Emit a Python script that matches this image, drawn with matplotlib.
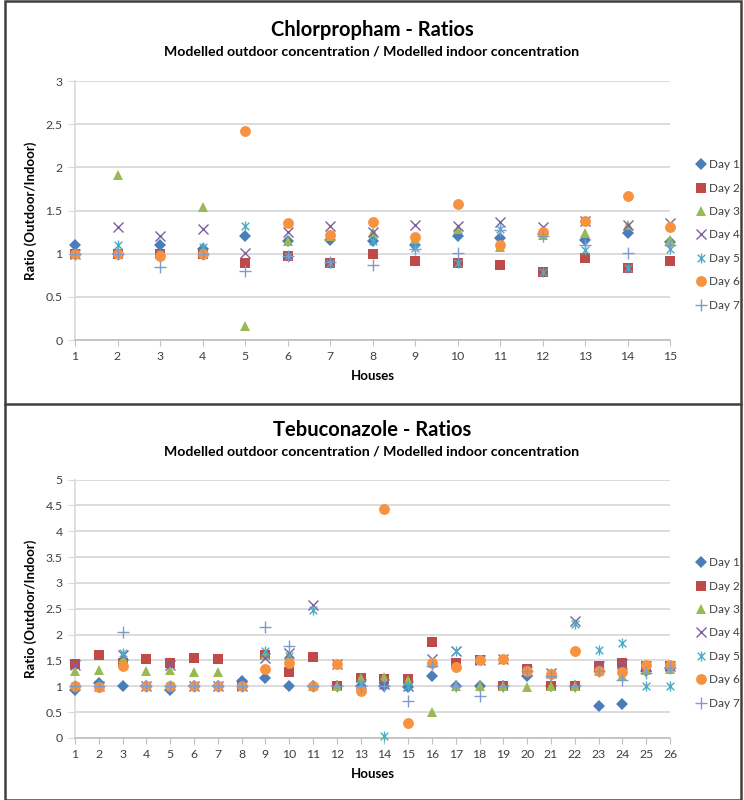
import matplotlib.pyplot as plt
from matplotlib.path import Path
from matplotlib.patches import Rectangle
from matplotlib.lines import Line2D

plt.rcParams['font.family'] = ['Lato', 'DejaVu Sans']

# Chlorpropham ratios, houses 1-15
chl_houses = list(range(1, 16))
chl_day1 = [1.1, 1.0, 1.1, 1.05, 1.2, 1.15, 1.16, 1.15, 1.1, 1.2, 1.18, 1.23, 1.16, 1.24, 1.14]
chl_day2 = [1.0, 1.0, 1.0, 1.0, 0.89, 0.97, 0.89, 1.0, 0.92, 0.89, 0.87, 0.79, 0.95, 0.83, 0.91]
chl_day3 = [1.0, 1.91, 1.0, 1.54, 0.16, 1.15, 1.2, 1.25, 1.17, 1.28, 1.08, 1.22, 1.24, 1.33, 1.16]
chl_day4 = [1.0, 1.31, 1.21, 1.28, 1.01, 1.25, 1.32, 1.25, 1.33, 1.32, 1.37, 1.31, 1.38, 1.33, 1.36]
chl_day5 = [1.0, 1.1, 1.0, 1.08, 1.32, 0.97, 0.89, 1.15, 1.07, 0.89, 1.28, 0.79, 1.04, 0.83, 1.05]
chl_day6 = [1.0, 1.0, 0.97, 1.0, 2.42, 1.36, 1.22, 1.37, 1.19, 1.58, 1.1, 1.25, 1.38, 1.67, 1.31]
chl_day7 = [1.0, 1.0, 0.85, 1.0, 0.8, 0.97, 0.9, 0.87, 1.05, 1.01, 1.27, 1.2, 1.1, 1.01, 1.1]

# Tebuconazole ratios, houses 1-26
teb_houses = list(range(1, 27))
teb_day1 = [0.92, 1.06, 1.0, 1.0, 0.92, 1.0, 1.0, 1.1, 1.16, 1.0, 1.0, 1.0, 1.0,
            1.0, 0.99, 1.19, 1.0, 1.0, 1.0, 1.19, 1.0, 1.0, 0.61, 0.66, 1.3, 1.35]
teb_day2 = [1.44, 1.61, 1.45, 1.53, 1.45, 1.55, 1.52, 1.0, 1.61, 1.27, 1.56, 1.0, 1.16,
            1.14, 1.14, 1.85, 1.46, 1.5, 1.0, 1.34, 1.0, 1.0, 1.39, 1.46, 1.39, 1.39]
teb_day3 = [1.29, 1.32, 1.55, 1.29, 1.32, 1.27, 1.28, 1.0, 1.6, 1.6, 1.0, 1.0, 1.16,
            1.18, 1.12, 0.5, 1.0, 1.01, 1.0, 0.99, 1.0, 1.0, 1.3, 1.19, 1.31, 1.34]
teb_day4 = [1.42, 1.0, 1.61, 1.0, 1.42, 1.0, 1.0, 1.0, 1.55, 1.65, 2.58, 1.44, 1.05,
            1.05, 1.0, 1.52, 1.68, 1.5, 1.53, 1.3, 1.25, 2.26, 1.4, 1.44, 1.4, 1.4]
teb_day5 = [1.0, 1.0, 1.65, 1.0, 1.0, 1.0, 1.0, 1.0, 1.68, 1.58, 2.48, 1.44, 1.05,
            0.03, 1.0, 1.45, 1.68, 1.5, 1.53, 1.3, 1.26, 2.21, 1.71, 1.83, 1.0, 1.0]
teb_day6 = [1.0, 0.99, 1.4, 1.0, 1.0, 1.0, 1.0, 1.0, 1.34, 1.45, 1.0, 1.44, 0.9,
            4.43, 0.29, 1.46, 1.37, 1.5, 1.53, 1.29, 1.23, 1.68, 1.29, 1.27, 1.42, 1.42]
teb_day7 = [1.0, 1.0, 2.05, 1.0, 1.0, 1.0, 1.0, 1.0, 2.15, 1.77, 1.0, 1.0, 1.0,
            1.0, 0.71, 1.39, 1.0, 0.82, 1.0, 1.29, 1.2, 1.0, 1.3, 1.13, 1.26, 1.35]

day_labels = ['Day 1', 'Day 2', 'Day 3', 'Day 4', 'Day 5', 'Day 6', 'Day 7']

# excel-like "star": an x with a vertical bar through it
star = Path([(-1, -1), (1, 1), (-1, 1), (1, -1), (0, -1.3), (0, 1.3)],
            [Path.MOVETO, Path.LINETO, Path.MOVETO, Path.LINETO, Path.MOVETO, Path.LINETO])

styles = [
    dict(marker='D', color='#4a7ebb', ms=5.8, mew=0),
    dict(marker='s', color='#be4b48', ms=6.8, mew=0),
    dict(marker='^', color='#98b954', ms=7.8, mew=0),
    dict(marker='x', color='#7d60a0', ms=7.2, mew=1.0),
    dict(marker=star, color='#4bacc6', ms=7.2, mew=1.0),
    dict(marker='o', color='#f69240', ms=7.8, mew=0),
    dict(marker='+', color='#7e9bd0', ms=8.2, mew=1.0),
]

fig = plt.figure(figsize=(7.44, 8.0), dpi=100)

# panel frames
fig.add_artist(Rectangle((5 / 744, 0.5 / 800), 736 / 744, 798.5 / 800, transform=fig.transFigure,
                         fill=False, ec='#404040', lw=1.8))
fig.add_artist(Line2D([5 / 744, 741 / 744], [1 - 404 / 800, 1 - 404 / 800],
                      transform=fig.transFigure, color='#404040', lw=1.8))


def draw_panel(ax, houses, days, ymax, title, title_y, legend_y):
    for vals, st, lab in zip(days, styles, day_labels):
        ax.plot(houses, vals, ls='none', label=lab, zorder=3, clip_on=False, **st)
    ax.set_xlim(1, houses[-1])
    ax.set_ylim(0, ymax)
    ax.set_xticks(houses)
    yt = [i * 0.5 for i in range(int(ymax * 2) + 1)]
    ax.set_yticks(yt)
    ax.set_yticklabels(['%g' % v for v in yt])
    ax.grid(axis='y', color='#d9d9d9', lw=1.3, zorder=0)
    for s in ['top', 'right']:
        ax.spines[s].set_visible(False)
    ax.spines['left'].set_color('#d9d9d9')
    ax.spines['bottom'].set_color('#bfbfbf')
    ax.spines['left'].set_linewidth(1.2)
    ax.spines['bottom'].set_linewidth(1.2)
    ax.tick_params(axis='y', length=5, color='#d9d9d9', labelsize=8.8, labelcolor='#404040', pad=4)
    ax.tick_params(axis='x', length=4, color='#bfbfbf', labelsize=8.8, labelcolor='#404040', pad=4)
    ax.set_xlabel('Houses', fontsize=9.5, fontweight='bold', labelpad=6)
    ax.set_ylabel('Ratio (Outdoor/Indoor)', fontsize=9.5, fontweight='bold', labelpad=6)
    fig.text(0.5, 1 - title_y / 800, title, ha='center', va='center', fontsize=14.5, fontweight='bold')
    fig.text(0.5, 1 - (title_y + 22) / 800, 'Modelled outdoor concentration / Modelled indoor concentration',
             ha='center', va='center', fontsize=10.2, fontweight='bold')
    ax.legend(loc='center left', bbox_to_anchor=(690 / 744, 1 - legend_y / 800),
              bbox_transform=fig.transFigure, frameon=False, fontsize=8.5, labelspacing=1.05,
              handlelength=0.8, handletextpad=0.3, borderpad=0, labelcolor='#404040')


ax1 = fig.add_axes([75 / 744, 1 - 340 / 800, 595 / 744, 259 / 800])
draw_panel(ax1, chl_houses,
           [chl_day1, chl_day2, chl_day3, chl_day4, chl_day5, chl_day6, chl_day7],
           3, 'Chlorpropham - Ratios', 30, 235)

ax2 = fig.add_axes([75 / 744, 1 - 738 / 800, 595 / 744, 258.5 / 800])
draw_panel(ax2, teb_houses,
           [teb_day1, teb_day2, teb_day3, teb_day4, teb_day5, teb_day6, teb_day7],
           5, 'Tebuconazole - Ratios', 430, 633)

fig.savefig('out.png', dpi=100)
